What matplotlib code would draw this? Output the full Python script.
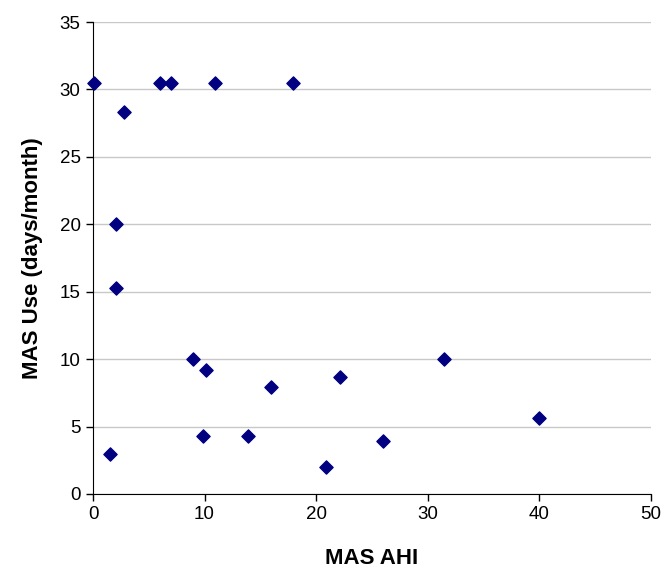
import matplotlib
matplotlib.use("Agg")
import matplotlib.pyplot as plt

ahi = [0.1, 6.0, 7.0, 10.9, 17.9, 2.8, 2.1, 2.1, 9.0, 10.1, 16.0, 22.1,
       31.5, 40.0, 9.9, 13.9, 26.0, 1.5, 20.9]
use = [30.5, 30.5, 30.5, 30.5, 30.5, 28.3, 20.0, 15.3, 10.0, 9.2, 7.9, 8.7,
       10.0, 5.6, 4.3, 4.3, 3.9, 3.0, 2.0]

plt.rcParams['font.family'] = ['Liberation Sans', 'DejaVu Sans']

fig = plt.figure(figsize=(6.62, 5.73), dpi=100)
ax = fig.add_axes([0.1405, 0.1379, 0.8425, 0.8237])

ax.scatter(ahi, use, marker='D', s=45, color='#000080', zorder=3, clip_on=False)

ax.set_xlim(0, 50)
ax.set_ylim(0, 35)
ax.set_xticks(range(0, 51, 10))
ax.set_yticks(range(0, 36, 5))
ax.yaxis.grid(True, color='#c8c8c8', linewidth=1)
ax.set_axisbelow(True)
for s in ['top', 'right']:
    ax.spines[s].set_visible(False)
ax.tick_params(labelsize=13.5, direction='out', length=5, width=1, pad=4)

ax.set_xlabel('MAS AHI', fontsize=16, fontweight='bold', labelpad=18)
ax.set_ylabel('MAS Use (days/month)', fontsize=16, fontweight='bold', labelpad=12)

fig.savefig('out.png', dpi=100)
